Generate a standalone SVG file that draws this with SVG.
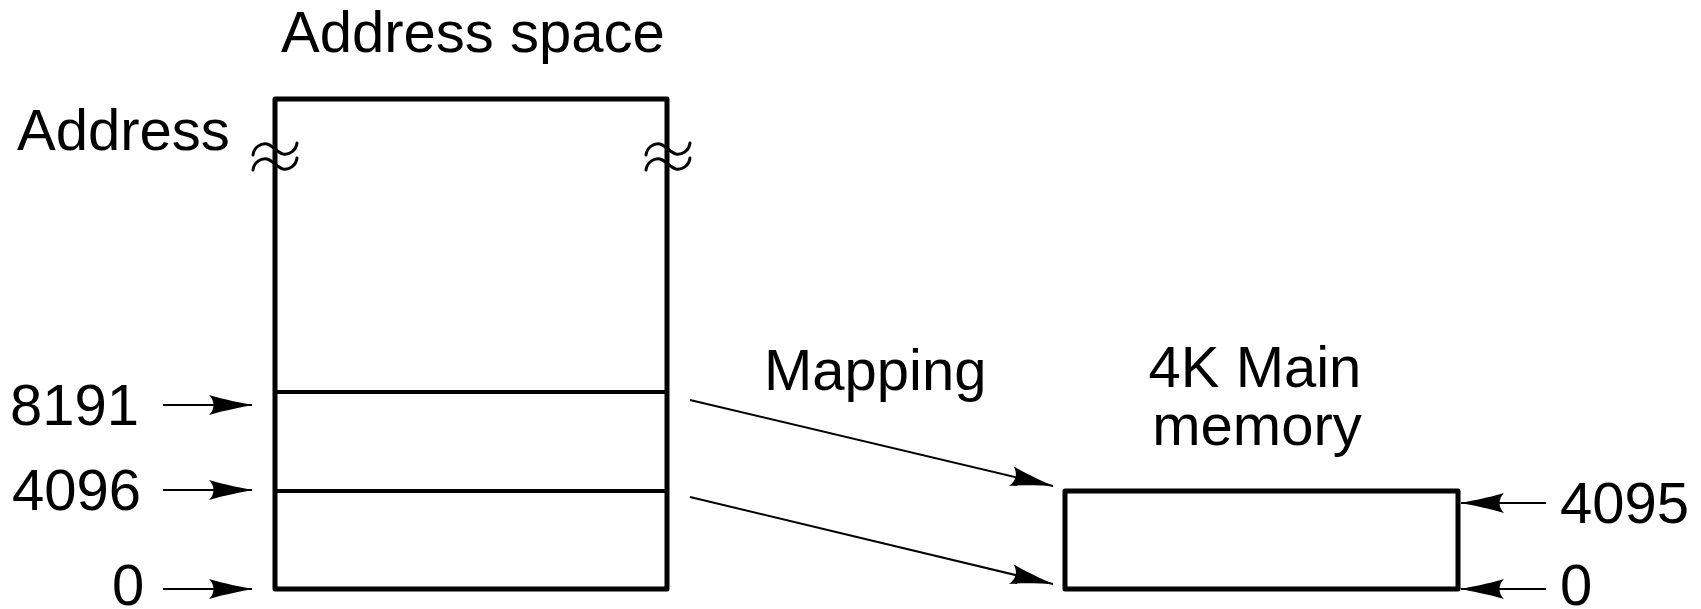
<svg xmlns="http://www.w3.org/2000/svg" width="1701" height="609" viewBox="0 0 1701 609">
<style>
text{font-family:"Liberation Sans",Arial,sans-serif;font-size:58px;fill:#000}
.box{fill:none;stroke:#000;stroke-width:5;stroke-linejoin:round}
.div{stroke:#000;stroke-width:4}
.conn{fill:none;stroke:#000;stroke-width:2}
.tilde{fill:none;stroke:#000;stroke-width:3;stroke-linecap:round}
</style>
<defs>
<marker id="ah" markerUnits="userSpaceOnUse" markerWidth="50" markerHeight="24" viewBox="-47 -12 50 24" refX="0" refY="0" orient="auto" overflow="visible">
<path d="M1,0 C-10,-2 -26,-5 -43,-10 C-37,-4 -37,4 -43,10 C-26,5 -10,2 1,0 Z" fill="#000"/>
</marker>
<path id="tl" d="M-22,6 C-21,-2 -14,-6 -8,-5 C-3,-4 3,4 8,5 C14,6 21,2 22,-6"/>
</defs>

<g id="title"><text x="281" y="52">Address space</text></g>
<g id="address-label"><text x="17" y="150">Address</text></g>

<g id="address-space">
<rect class="box" x="275" y="99" width="392" height="490"/>
<line class="div" x1="275" y1="392" x2="667" y2="392"/>
<line class="div" x1="275" y1="491" x2="667" y2="491"/>
<use href="#tl" class="tilde" x="275" y="149"/>
<use href="#tl" class="tilde" x="275" y="164"/>
<use href="#tl" class="tilde" x="668" y="149"/>
<use href="#tl" class="tilde" x="668" y="164"/>
</g>

<g id="main-memory">
<rect class="box" x="1065" y="491" width="393" height="98"/>
</g>

<g id="labels">
<text x="10" y="425">8191</text>
<text x="12" y="510">4096</text>
<text x="112" y="605">0</text>
<text x="1560" y="523">4095</text>
<text x="1560" y="605">0</text>
<text x="764" y="390">Mapping</text>
<text x="1255" y="387" text-anchor="middle">4K Main</text>
<text x="1257" y="445" text-anchor="middle">memory</text>
</g>

<g id="connectors">
<line class="conn" x1="163" y1="405" x2="252" y2="405" marker-end="url(#ah)"/>
<line class="conn" x1="163" y1="490" x2="252" y2="490" marker-end="url(#ah)"/>
<line class="conn" x1="163" y1="589" x2="252" y2="589" marker-end="url(#ah)"/>
<line class="conn" x1="690" y1="400" x2="1053" y2="486" marker-end="url(#ah)"/>
<line class="conn" x1="690" y1="497" x2="1053" y2="584" marker-end="url(#ah)"/>
<line class="conn" x1="1546" y1="503" x2="1461" y2="503" marker-end="url(#ah)"/>
<line class="conn" x1="1546" y1="589" x2="1461" y2="589" marker-end="url(#ah)"/>
</g>
</svg>
